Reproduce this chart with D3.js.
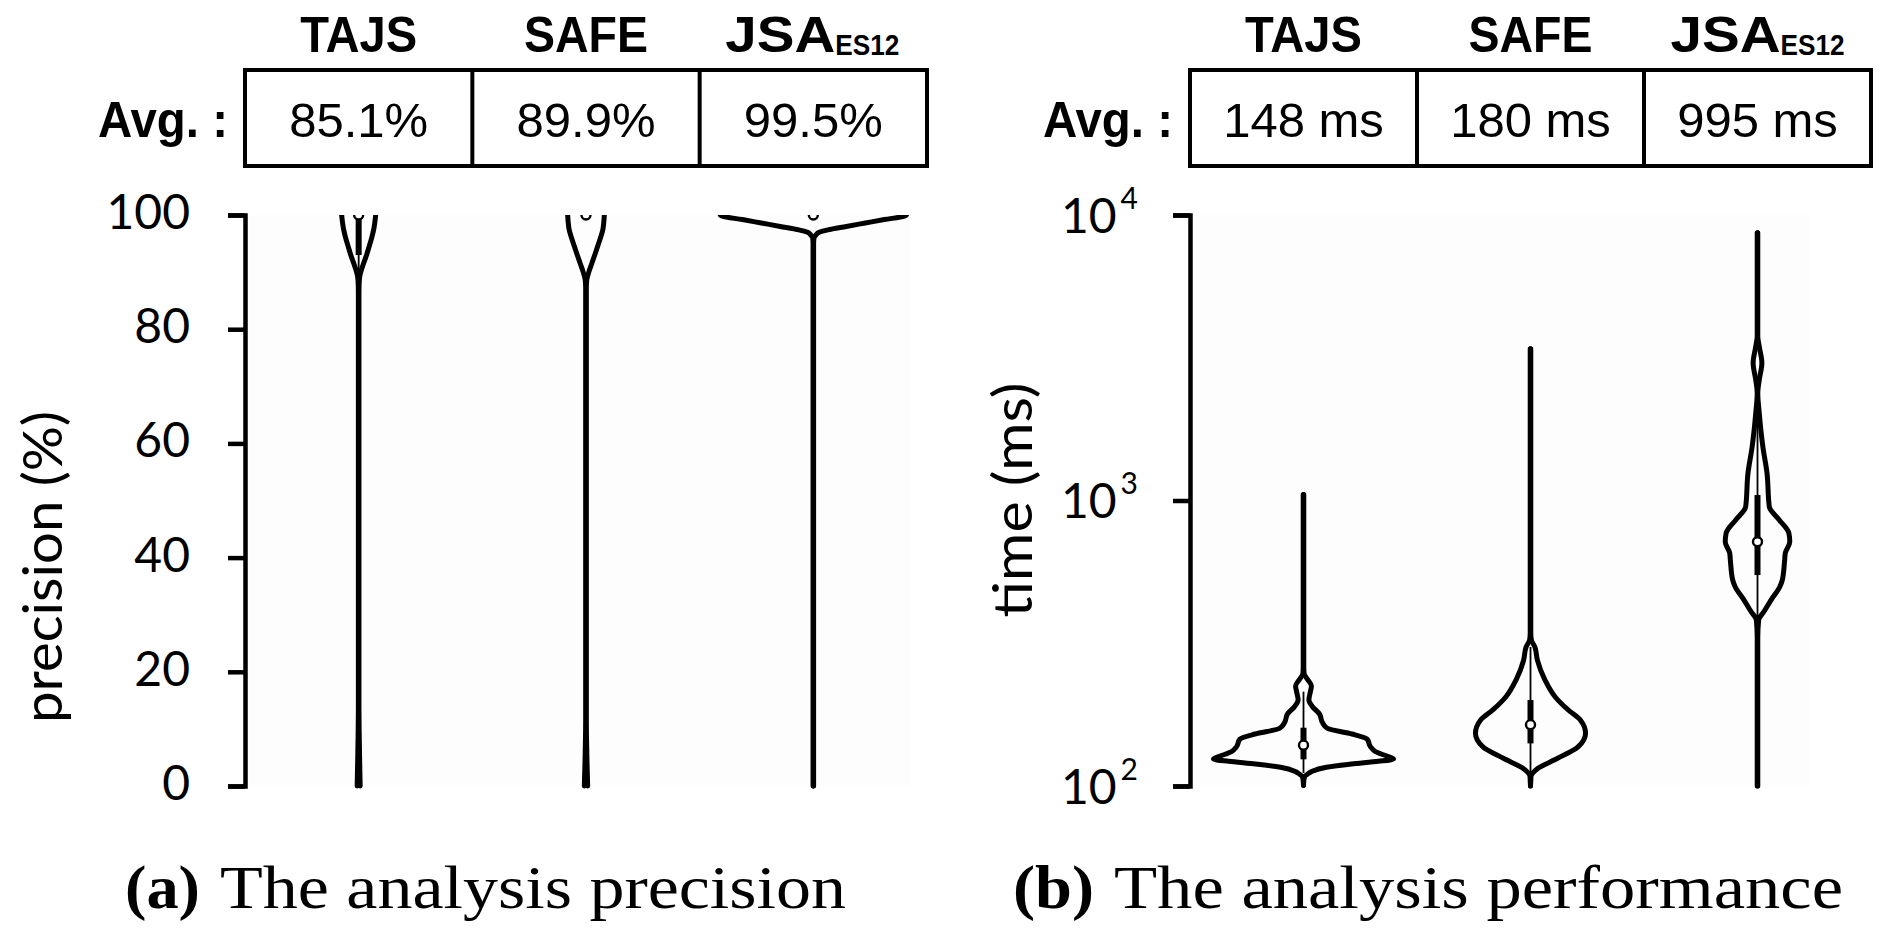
<!DOCTYPE html>
<html><head><meta charset="utf-8">
<script src="https://cdn.jsdelivr.net/npm/d3@7"></script>
<style>body{margin:0;background:#fff}svg{display:block}</style>
</head><body>
<svg id="chart" width="1895" height="931"></svg>
<script>
// ---------------- data ----------------
const tools = ["TAJS", "SAFE", "JSA"];
const toolSubscripts = ["", "", "ES12"];
const precisionAvg = ["85.1%", "89.9%", "99.5%"];
const timeAvg = ["148 ms", "180 ms", "995 ms"];
const precisionTicks = [0, 20, 40, 60, 80, 100];
const timeTicks = [100, 1000, 10000];

// violin outlines: [value, relative density (0-100)]
const precisionTAJS = [[0,1.6],[5,1.0],[10,0.5],[15,0.3],[85,0.3],[87.5,0.4],[89.2,1.1],[90.3,2.8],[91.5,5.2],[93,8.5],[94.5,11.3],[96,14],[97.4,16.1],[98.5,17.2],[100,18.3]];
const precisionSAFE = [[0,1.8],[4,1.1],[8,0.6],[12,0.3],[87,0.3],[88.6,0.8],[90,3],[91.5,6.2],[93,9.4],[94.5,12.5],[96,15.6],[97.4,18.1],[98.5,19],[100,19.7]];
const precisionJSA  = [[0,0.3],[95,0.3],[95.9,0.6],[96.5,2.7],[97,6.5],[97.4,15.6],[98,35.5],[98.6,55.9],[99.2,76.3],[99.8,97.8],[100,100]];

const timeTAJS = [[100.5,0],[104,0.3],[107.8,1.1],[110,4.3],[112.3,8.6],[116.3,24.7],[119.4,51.6],[122,80.6],[124.3,96.8],[127,90.3],[132,77.4],[137.3,72],[145.8,68.5],[152.1,52.2],[159.2,25.8],[166.7,20.4],[178.7,17.2],[189.6,9.7],[200.1,5.8],[213.9,7.4],[224,8.5],[236.5,4.2],[248,0.6],[262,0.3],[1050,0.3]];
const timeSAFE = [[100,0],[104,0.3],[108,0.5],[115,7.4],[125,29.2],[137,51.1],[153,59.2],[170,53.8],[185,40.2],[205,26.6],[235,15.6],[276,7.4],[307,4.7],[325,0.9],[345,0.3],[3400,0.3]];
const timeJSA = [[100,0.3],[330,0.3],[381,1.2],[410,7.3],[448,14.5],[499,24],[527,26.7],[619,29.2],[655,29.9],[717,34.7],[769,33.7],[855,23.4],[951,12.7],[1250,10.2],[1540,5.8],[2020,1.9],[2380,0.3],[2645,1.9],[3030,4.7],[3460,1.9],[3750,0.3],[8670,0.3]];

// box-plot statistics
const precisionMedian = [100, 100, 100];
const precisionQ1 = [93, 100, 100];
const precisionQ3 = [100, 100, 100];
const precisionWhiskerLow = [89, 100, 100];
const precisionWhiskerHigh = [100, 100, 100];

const timeMedian = [139, 164, 717];
const timeQ1 = [124, 141, 548];
const timeQ3 = [160, 200, 1045];
const timeWhiskerLow = [111, 111, 381];
const timeWhiskerHigh = [214, 307, 2000];

const captions = [["(a)", "The analysis precision"], ["(b)", "The analysis performance"]];

// ---------------- drawing ----------------
const svg = d3.select("#chart");
const NUM_FONT = "Lato, 'Open Sans', sans-serif";
const HEAD_FONT = "'Liberation Sans', Arial, sans-serif";
const CAP_FONT = "'Liberation Serif', 'Times New Roman', serif";

const densityScale = d3.scaleLinear().domain([0, 100]).range([0, 93]);

function drawPanel(cfg) {
  const g = svg.append("g");
  const x = d3.scaleBand().domain(tools).range([cfg.x0, cfg.x1]);
  const y = cfg.y;

  // faint plot background
  g.append("rect").attr("x", cfg.x0 + 5).attr("y", y.range()[1])
    .attr("width", cfg.bgW).attr("height", y.range()[0] - y.range()[1])
    .attr("fill", "#fdfdfd");

  // header names
  const head = g.append("g");
  tools.forEach((t, i) => {
    const tx = head.append("text")
      .attr("x", x(t) + x.bandwidth() / 2 + cfg.headShift[i]).attr("y", 52)
      .attr("text-anchor", "middle")
      .style("font-family", HEAD_FONT).style("font-weight", "bold")
      .style("font-size", "50px");
    tx.append("tspan").text(t).attr("textLength", cfg.headLen[i]).attr("lengthAdjust", "spacingAndGlyphs");
    if (toolSubscripts[i]) {
      tx.append("tspan").text(toolSubscripts[i]).attr("dy", 3)
        .style("font-size", "30px").attr("textLength", 64).attr("lengthAdjust", "spacingAndGlyphs");
    }
  });

  // header avg box
  g.append("rect").attr("x", cfg.x0).attr("y", 70)
    .attr("width", cfg.x1 - cfg.x0).attr("height", 96)
    .attr("fill", "none").attr("stroke", "#000").attr("stroke-width", 4);
  tools.slice(1).forEach(t => {
    g.append("line").attr("x1", x(t)).attr("x2", x(t)).attr("y1", 70).attr("y2", 166)
      .attr("stroke", "#000").attr("stroke-width", 4);
  });
  g.append("text").attr("x", cfg.x0 - 17).attr("y", 137).attr("text-anchor", "end")
    .style("font-family", HEAD_FONT).style("font-weight", "bold").style("font-size", "50px")
    .attr("textLength", 130).attr("lengthAdjust", "spacingAndGlyphs")
    .text("Avg. :");
  tools.forEach((t, i) => {
    g.append("text").attr("x", x(t) + x.bandwidth() / 2).attr("y", 137)
      .attr("text-anchor", "middle")
      .style("font-family", HEAD_FONT).style("font-size", "49px")
      .text(cfg.avg[i]);
  });

  // axis
  const axis = d3.axisLeft(y).tickValues(cfg.ticks).tickSize(17).tickSizeOuter(17).tickPadding(cfg.tickPad);
  if (cfg.log) axis.tickFormat(() => "");
  const ag = g.append("g").attr("transform", `translate(${cfg.x0},0)`).call(axis);
  ag.select(".domain").attr("stroke-width", 4.5);
  ag.selectAll(".tick line").attr("stroke-width", 4.5);
  ag.selectAll(".tick text").style("font-family", NUM_FONT).style("font-size", "48px")
    .attr("fill", "#000").attr("dy", "0.28em");
  if (cfg.log) {
    ag.selectAll(".tick").each(function (d) {
      const t = d3.select(this).select("text").attr("dy", "0.36em");
      t.append("tspan").text("10");
      t.append("tspan").text(Math.round(Math.log10(d))).style("font-size", "30px").attr("dy", -24).attr("dx", 4);
      t.attr("x", -52);
    });
  }

  // axis title
  g.append("text")
    .attr("transform", `translate(${cfg.titleX},${cfg.titleY}) rotate(-90)`)
    .attr("text-anchor", "middle")
    .style("font-family", NUM_FONT).style("font-size", "54px")
    .attr("textLength", cfg.titleLen).attr("lengthAdjust", "spacingAndGlyphs")
    .text(cfg.title);

  // violins
  const clipId = "clip" + cfg.id;
  svg.append("clipPath").attr("id", clipId).append("rect")
    .attr("x", cfg.x0).attr("y", y.range()[1]).attr("width", cfg.x1 - cfg.x0 + 20)
    .attr("height", y.range()[0] - y.range()[1] + 10);
  const vg = g.append("g").attr("clip-path", `url(#${clipId})`);

  cfg.violins.forEach((prof, i) => {
    const cx = x(tools[i]) + x.bandwidth() / 2;
    [-1, 1].forEach(side => {
      const line = d3.line()
        .x(d => cx + side * densityScale(d[1]))
        .y(d => y(d[0]))
        .curve(d3.curveMonotoneY);
      vg.append("path").attr("d", line(prof)).attr("fill", "none")
        .attr("stroke", "#000").attr("stroke-width", 5)
        .attr("stroke-linecap", "round").attr("stroke-linejoin", "round");
    });
    // whisker
    vg.append("line").attr("x1", cx).attr("x2", cx)
      .attr("y1", y(cfg.wLo[i])).attr("y2", y(cfg.wHi[i]))
      .attr("stroke", "#000").attr("stroke-width", 1.8);
    // box
    vg.append("line").attr("x1", cx).attr("x2", cx)
      .attr("y1", y(cfg.q1[i])).attr("y2", y(cfg.q3[i]))
      .attr("stroke", "#000").attr("stroke-width", 6);
    // median
    vg.append("circle").attr("cx", cx).attr("cy", y(cfg.med[i])).attr("r", 4.5)
      .attr("fill", "#fff").attr("stroke", "#000").attr("stroke-width", 2.4);
  });

  // caption
  const cap = svg.append("g");
  cap.append("text").attr("x", cfg.capX).attr("y", 908)
    .style("font-family", CAP_FONT).style("font-weight", "bold").style("font-size", "62px")
    .attr("textLength", cfg.capLabelLen).attr("lengthAdjust", "spacingAndGlyphs")
    .text(captions[cfg.id][0]);
  cap.append("text").attr("x", cfg.capTextX).attr("y", 908)
    .style("font-family", CAP_FONT).style("font-size", "62px")
    .attr("textLength", cfg.capTextLen).attr("lengthAdjust", "spacingAndGlyphs")
    .text(captions[cfg.id][1]);
}

drawPanel({
  id: 0, x0: 245, x1: 927, bgW: 660,
  y: d3.scaleLinear().domain([0, 100]).range([786, 215]),
  ticks: precisionTicks, tickPad: 38, log: false,
  headShift: [0, 0, -1], headLen: [117, 124, 110],
  avg: precisionAvg,
  title: "precision (%)", titleX: 62, titleY: 567, titleLen: 312,
  violins: [precisionTAJS, precisionSAFE, precisionJSA],
  med: precisionMedian, q1: precisionQ1, q3: precisionQ3, wLo: precisionWhiskerLow, wHi: precisionWhiskerHigh,
  capX: 125, capLabelLen: 75, capTextX: 220, capTextLen: 626
});

drawPanel({
  id: 1, x0: 1190, x1: 1871, bgW: 615,
  y: d3.scaleLog().domain([100, 10000]).range([786, 215]),
  ticks: timeTicks, tickPad: 38, log: true,
  headShift: [0, 0, 0], headLen: [117, 124, 110],
  avg: timeAvg,
  title: "time (ms)", titleX: 1032, titleY: 500, titleLen: 235,
  violins: [timeTAJS, timeSAFE, timeJSA],
  med: timeMedian, q1: timeQ1, q3: timeQ3, wLo: timeWhiskerLow, wHi: timeWhiskerHigh,
  capX: 1013, capLabelLen: 81, capTextX: 1114, capTextLen: 729
});
</script>
</body></html>
